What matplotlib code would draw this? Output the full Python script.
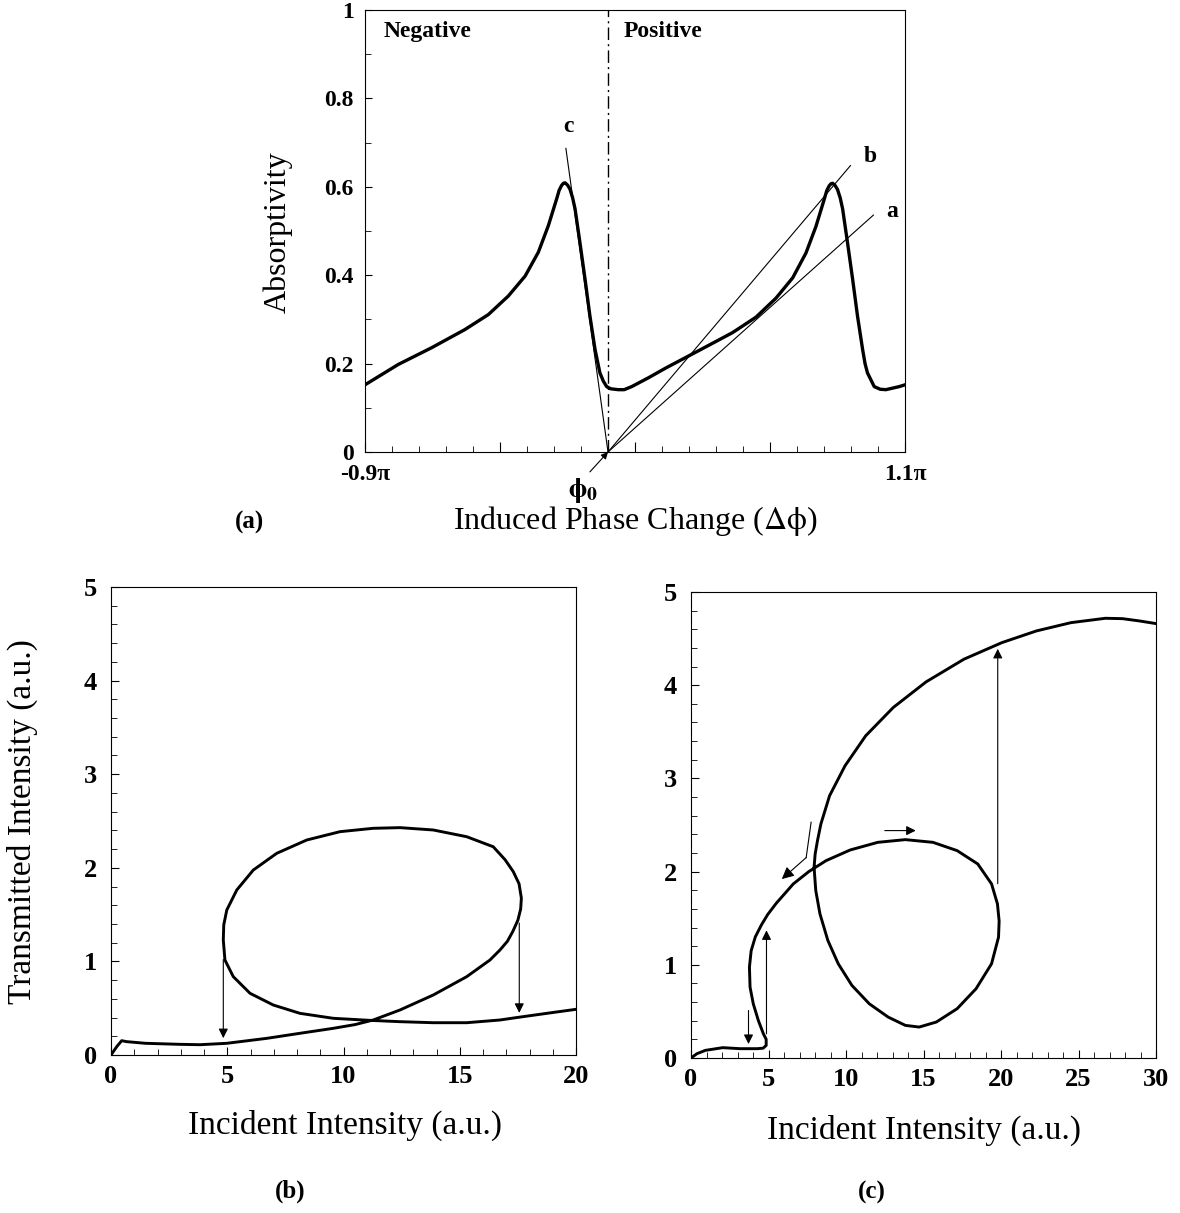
import matplotlib
matplotlib.use('Agg')
import matplotlib.pyplot as plt
from matplotlib.ticker import MultipleLocator, FixedLocator

plt.rcParams['font.family'] = ['Liberation Serif', 'DejaVu Serif']
plt.rcParams['mathtext.fontset'] = 'stix'
plt.rcParams['lines.solid_joinstyle'] = 'round'

# ---- (a) absorptivity vs induced phase change (x in units of pi) ----
phase = [-0.9, -0.777, -0.653, -0.530, -0.443, -0.369, -0.307, -0.258, -0.221,
         -0.190, -0.181, -0.172, -0.165, -0.159, -0.150, -0.141, -0.131, -0.122,
         -0.104, -0.085, -0.067, -0.048, -0.030, -0.017, -0.005, 0.010, 0.038,
         0.060, 0.088, 0.150, 0.214, 0.338, 0.461, 0.548, 0.622, 0.684, 0.733,
         0.770, 0.801, 0.810, 0.819, 0.826, 0.832, 0.841, 0.850, 0.860, 0.869,
         0.887, 0.906, 0.924, 0.943, 0.952, 0.961, 0.986, 1.008, 1.029, 1.079, 1.1]
absorb = [0.152, 0.198, 0.236, 0.277, 0.311, 0.353, 0.398, 0.452, 0.512,
          0.573, 0.592, 0.603, 0.608, 0.609, 0.604, 0.595, 0.575, 0.550,
          0.474, 0.391, 0.308, 0.232, 0.179, 0.160, 0.148, 0.143, 0.141,
          0.141, 0.148, 0.168, 0.190, 0.230, 0.270, 0.305, 0.348, 0.394, 0.450,
          0.510, 0.572, 0.591, 0.602, 0.607, 0.608, 0.603, 0.594, 0.575, 0.550,
          0.474, 0.391, 0.308, 0.232, 0.200, 0.179, 0.148, 0.142, 0.141, 0.148, 0.152]

# load lines drawn from phi0 (end points) and their labels
line_names = ['a', 'b', 'c']
line_end_x = [0.983, 0.898, -0.156]
line_end_y = [0.536, 0.648, 0.687]
line_lab_x = [1.052, 0.970, -0.145]
line_lab_y = [0.543, 0.668, 0.736]

# ---- (b) transmitted vs incident intensity ----
inc_b = [0, 0.25, 0.46, 0.66, 1.48, 2.96, 3.83, 4.98, 6.70, 8.13, 9.56, 10.50,
         11.28, 12.43, 13.86, 15.30, 16.30, 16.73, 17.05, 17.28, 17.50, 17.62,
         17.65, 17.55, 17.30, 16.95, 16.44, 15.30, 13.86, 12.43, 11.28, 9.85,
         8.42, 7.13, 6.12, 5.41, 4.98, 4.85, 4.83, 4.90, 5.26, 5.98, 6.98, 8.13,
         9.56, 11.14, 12.43, 13.86, 15.30, 16.73, 17.45, 18.77, 20.0]
trans_b = [0, 0.09, 0.153, 0.143, 0.125, 0.114, 0.110, 0.125, 0.178, 0.232,
           0.285, 0.325, 0.374, 0.481, 0.641, 0.837, 1.015, 1.122, 1.215, 1.319,
           1.440, 1.560, 1.676, 1.830, 1.960, 2.086, 2.225, 2.332, 2.404, 2.429,
           2.422, 2.386, 2.297, 2.155, 1.976, 1.763, 1.549, 1.390, 1.229, 1.015,
           0.837, 0.659, 0.534, 0.445, 0.392, 0.370, 0.356, 0.345, 0.345, 0.374,
           0.400, 0.446, 0.488]
arrow_b_x = [4.83, 17.56]
arrow_b_from = [1.02, 1.41]
arrow_b_to = [0.18, 0.45]

# ---- (c) transmitted vs incident intensity ----
inc_c = [0, 0.38, 0.93, 2.05, 3.16, 4.27, 4.65, 4.85, 4.85, 4.67, 4.35, 4.02,
         3.81, 3.77, 3.88, 4.15, 4.55, 4.95, 5.50, 6.60, 7.60, 8.72, 10.27,
         12.05, 13.83, 15.61, 17.17, 18.50, 19.39, 19.77, 19.88, 19.84, 19.39,
         18.39, 17.17, 15.83, 14.72, 13.83, 12.72, 11.50, 10.38, 9.50, 8.83,
         8.32, 8.05, 7.94, 8.01, 8.16, 8.38, 8.94, 9.94, 11.27, 13.05, 15.17,
         17.61, 20.06, 22.28, 24.51, 26.73, 27.84, 28.95, 30.0]
trans_c = [0, 0.046, 0.082, 0.111, 0.100, 0.100, 0.105, 0.135, 0.200, 0.260,
           0.400, 0.580, 0.760, 0.975, 1.150, 1.300, 1.430, 1.540, 1.660, 1.868,
           2.000, 2.118, 2.232, 2.314, 2.343, 2.314, 2.225, 2.082, 1.868, 1.654,
           1.470, 1.296, 1.011, 0.743, 0.529, 0.386, 0.332, 0.350, 0.439, 0.582,
           0.779, 1.011, 1.261, 1.546, 1.796, 2.046, 2.189, 2.332, 2.511, 2.814,
           3.136, 3.457, 3.761, 4.036, 4.279, 4.457, 4.582, 4.671, 4.718, 4.714,
           4.689, 4.661]
# straight arrows: (x0, y0, x1, y1)
arrows_c = [(3.71, 0.51, 3.71, 0.15),
            (4.87, 0.26, 4.87, 1.37),
            (19.79, 1.87, 19.79, 4.39),
            (12.5, 2.44, 14.5, 2.44)]
bent_x = [7.75, 7.43, 5.86]
bent_y = [2.53, 2.15, 1.92]

W, H = 1180, 1213
fig = plt.figure(figsize=(W / 100, H / 100), dpi=100)
arrow_kw = dict(arrowstyle='-|>', color='k', lw=0.8, mutation_scale=14,
                shrinkA=0, shrinkB=0)

# panel (a)
ax = fig.add_axes([365 / W, 1 - 452 / H, 540 / W, 442 / H])
ax.plot(phase, absorb, color='k', lw=2.4)
for n, ex, ey, lx, ly in zip(line_names, line_end_x, line_end_y, line_lab_x, line_lab_y):
    ax.plot([0, ex], [0, ey], color='k', lw=0.8)
    ax.text(lx, ly, n, fontsize=17, fontweight='bold', ha='center', va='center')
ax.plot([0, 0], [0, 1], color='k', lw=1.0, linestyle=(0, (9, 3, 1.5, 3)))
ax.text(-0.83, 0.952, 'Negative', fontsize=17, fontweight='bold', va='center')
ax.text(0.056, 0.952, 'Positive', fontsize=17, fontweight='bold', va='center')
ax.annotate('', xy=(0, 0), xytext=(-0.067, -0.045),
            arrowprops=dict(arrow_kw, mutation_scale=10), annotation_clip=False)
ax.text(-0.094, -0.087, r'$\mathbf{\phi_0}$', fontsize=20, ha='center', va='center')
ax.set_xlim(-0.9, 1.1)
ax.set_ylim(0, 1)
ax.xaxis.set_major_locator(FixedLocator([-0.9, -0.4, 0.1, 0.6, 1.1]))
ax.set_xticklabels(['-0.9π', '', '', '', '1.1π'])
ax.xaxis.set_minor_locator(MultipleLocator(0.1))
ax.set_yticks([0, 0.2, 0.4, 0.6, 0.8, 1])
ax.set_yticklabels(['0', '0.2', '0.4', '0.6', '0.8', '1'])
ax.yaxis.set_minor_locator(MultipleLocator(0.1))
ax.tick_params(which='both', direction='in', top=False, right=False,
               labelsize=17)
ax.tick_params(axis='x', which='major', length=7, pad=9)
ax.tick_params(axis='y', which='major', length=5, pad=8)
ax.tick_params(which='minor', length=4)
for lab in ax.get_xticklabels() + ax.get_yticklabels():
    lab.set_fontweight('bold')
fig.text(278 / W, 1 - 232 / H, 'Absorptivity', rotation=90, fontsize=23,
         ha='center', va='center')
fig.text(635 / W, 1 - 521 / H, r'Induced Phase Change ($\Delta\mathrm{\phi}$)',
         fontsize=23, ha='center', va='center')
fig.text(250 / W, 1 - 522 / H, '(a)', fontsize=18, fontweight='bold',
         ha='center', va='center')

# panels (b) and (c)
def intensity_panel(rect, xs, ys, xmax):
    ax = fig.add_axes(rect)
    ax.plot(xs, ys, color='k', lw=2.1)
    ax.set_xlim(0, xmax)
    ax.set_ylim(0, 5)
    ax.set_xticks(range(0, xmax + 1, 5))
    ax.xaxis.set_minor_locator(MultipleLocator(1))
    ax.yaxis.set_minor_locator(MultipleLocator(0.2))
    ax.tick_params(which='both', direction='in', top=False, right=False,
                   labelsize=19)
    ax.tick_params(which='major', length=6)
    ax.tick_params(which='minor', length=4)
    ax.tick_params(axis='x', pad=7)
    ax.tick_params(axis='y', pad=10)
    for lab in ax.get_xticklabels() + ax.get_yticklabels():
        lab.set_fontweight('bold')
    return ax

ax = intensity_panel([111 / W, 1 - 1055 / H, 465 / W, 468 / H], inc_b, trans_b, 20)
for x, y0, y1 in zip(arrow_b_x, arrow_b_from, arrow_b_to):
    ax.annotate('', xy=(x, y1), xytext=(x, y0), arrowprops=arrow_kw)
fig.text(22 / W, 1 - 822 / H, 'Transmitted Intensity (a.u.)', rotation=90,
         fontsize=24, ha='center', va='center')
fig.text(345 / W, 1 - 1125 / H, 'Incident Intensity (a.u.)', fontsize=24,
         ha='center', va='center')
fig.text(290 / W, 1 - 1191 / H, '(b)', fontsize=18, fontweight='bold',
         ha='center', va='center')

ax = intensity_panel([691 / W, 1 - 1058 / H, 465 / W, 466 / H], inc_c, trans_c, 30)
for x0, y0, x1, y1 in arrows_c:
    ax.annotate('', xy=(x1, y1), xytext=(x0, y0), arrowprops=arrow_kw)
ax.plot(bent_x[:2], bent_y[:2], color='k', lw=0.8)
ax.annotate('', xy=(bent_x[2], bent_y[2]), xytext=(bent_x[1], bent_y[1]),
            arrowprops=dict(arrow_kw, mutation_scale=18))
fig.text(924 / W, 1 - 1130 / H, 'Incident Intensity (a.u.)', fontsize=24,
         ha='center', va='center')
fig.text(872 / W, 1 - 1192 / H, '(c)', fontsize=18, fontweight='bold',
         ha='center', va='center')

fig.savefig('out.png', dpi=100)
